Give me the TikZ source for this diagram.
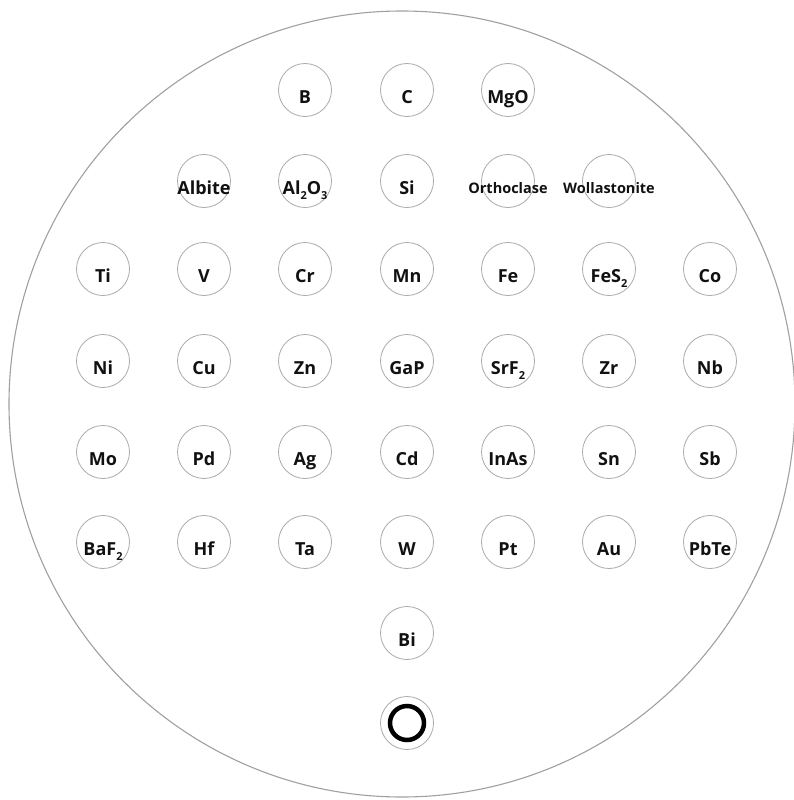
\documentclass[tikz,border=0pt]{standalone}
\usepackage{fontspec}
\setmainfont{Open Sans}
\definecolor{rimgray}{HTML}{A0A0A0}
\definecolor{cupgray}{HTML}{AAAAAA}
\definecolor{tagblack}{HTML}{111111}
\newcommand{\dropsub}[1]{\raisebox{-5pt}{\fontsize{11}{12}\selectfont #1}}

\begin{document}
\begin{tikzpicture}[
    x=1pt, y=-1pt,
    line width=0.8pt,
    sample/.style={circle, draw=cupgray, minimum size=53pt, inner sep=0pt},
    tag/.style={anchor=base, inner sep=0pt, text=tagblack,
        font=\fontsize{18}{20}\selectfont\bfseries},
    smalltag/.style={tag, font=\fontsize{14.5}{17}\selectfont\bfseries}
]
    \useasboundingbox (0,0) rectangle (793,800);

    % Sample holder disc
    \draw[rimgray, line width=1.1pt] (402,404) circle (393pt);

    % Row 1
    \foreach \nm/\cx/\lbl in {B/305/B, C/407/C, MgO/508/MgO} {
        \node[sample] (\nm) at (\cx,90) {};
        \node[tag] (\nm-t) at (\cx,103.5) {\lbl};
    }

    % Row 2 (minerals and Al2O3, Si)
    \foreach \nm/\cx/\lbl in {Albite/204/Albite, Al2O3/305/{Al\dropsub{2}O\dropsub{3}}, Si/407/Si} {
        \node[sample] (\nm) at (\cx,181) {};
        \node[tag] (\nm-t) at (\cx,194.5) {\lbl};
    }
    \foreach \nm/\cx/\lbl in {Orthoclase/508/Orthoclase, Wollastonite/609/Wollastonite} {
        \node[sample] (\nm) at (\cx,181) {};
        \node[smalltag] (\nm-t) at (\cx,193.5) {\lbl};
    }

    % Row 3
    \foreach \nm/\cx/\lbl in {Ti/103/Ti, V/204/V, Cr/305/Cr, Mn/407/Mn, Fe/508/Fe, FeS2/609/{FeS\dropsub{2}}, Co/710/Co} {
        \node[sample] (\nm) at (\cx,269) {};
        \node[tag] (\nm-t) at (\cx,282.5) {\lbl};
    }

    % Row 4
    \foreach \nm/\cx/\lbl in {Ni/103/Ni, Cu/204/Cu, Zn/305/Zn, GaP/407/GaP, SrF2/508/{SrF\dropsub{2}}, Zr/609/Zr, Nb/710/Nb} {
        \node[sample] (\nm) at (\cx,361) {};
        \node[tag] (\nm-t) at (\cx,374.5) {\lbl};
    }

    % Row 5
    \foreach \nm/\cx/\lbl in {Mo/103/Mo, Pd/204/Pd, Ag/305/Ag, Cd/407/Cd, InAs/508/InAs, Sn/609/Sn, Sb/710/Sb} {
        \node[sample] (\nm) at (\cx,452) {};
        \node[tag] (\nm-t) at (\cx,465.5) {\lbl};
    }

    % Row 6
    \foreach \nm/\cx/\lbl in {BaF2/103/{BaF\dropsub{2}}, Hf/204/Hf, Ta/305/Ta, W/407/W, Pt/508/Pt, Au/609/Au, PbTe/710/PbTe} {
        \node[sample] (\nm) at (\cx,542) {};
        \node[tag] (\nm-t) at (\cx,555.5) {\lbl};
    }

    % Row 7
    \node[sample] (Bi) at (407,633) {};
    \node[tag] (Bi-t) at (407,646.5) {Bi};

    % Reference mark
    \node[sample] (mark) at (407,723) {};
    \draw[black, line width=4.5pt] (mark.center) circle (17pt);

\end{tikzpicture}
\end{document}
